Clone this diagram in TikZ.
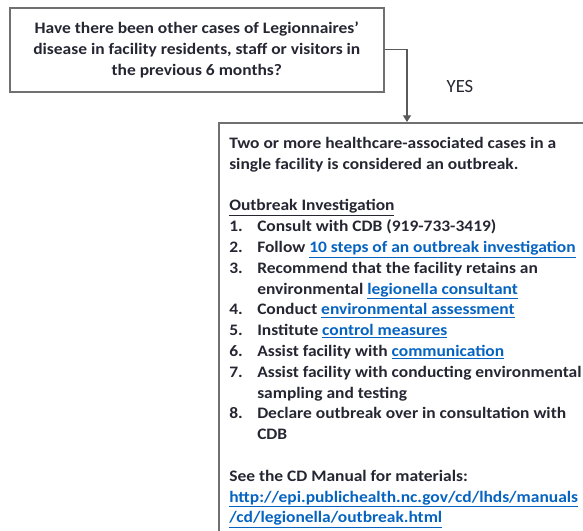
\documentclass[tikz,border=0pt]{standalone}
\usepackage{fontspec}
\setmainfont{Carlito}[FakeStretch=1.09]
\newfontfamily\yesfont{Carlito}
\usetikzlibrary{arrows.meta,calc}

\definecolor{inkgray}{HTML}{262633}
\definecolor{framegray}{HTML}{707070}
\definecolor{linkblue}{HTML}{0563C1}

\newcommand{\weblink}[1]{{\color{linkblue}\underline{#1}}}
\newcommand{\numitem}[2]{\makebox[21pt][l]{#1}#2}

\tikzset{
  qbox/.style={draw=framegray, line width=1.2pt, inner sep=0pt, align=center},
  flowline/.style={draw=framegray!80!black, line width=0.9pt, -{Triangle[width=6pt,length=5pt]}},
}

\begin{document}
\begin{tikzpicture}[x=0.75pt,y=-0.75pt,font=\bfseries\fontsize{12pt}{15.6pt}\selectfont,text=inkgray]
\useasboundingbox (0,0) rectangle (583,531);
\clip (0,0) rectangle (583,531);

\node[qbox, anchor=north west, minimum width=280.5pt, minimum height=63pt] (question) at (9,7)
  {Have there been other cases of Legionnaires'\\
   disease in facility residents, staff or visitors in\\
   the previous 6 months?};

\node[qbox, anchor=north west, minimum width=300pt, minimum height=330pt] (outbreak) at (218,122) {};

\node[anchor=north west, inner sep=0pt, align=left] (steps) at (229,137)
  {Two or more healthcare-associated cases in a\\
   single facility is considered an outbreak.\\[15.6pt]
   \underline{Outbreak Investigation}\\
   \numitem{1.}{Consult with CDB (919-733-3419)}\\
   \numitem{2.}{Follow \weblink{10 steps of an outbreak investigation}}\\
   \numitem{3.}{Recommend that the facility retains an}\\
   \numitem{}{environmental \weblink{legionella consultant}}\\
   \numitem{4.}{Conduct \weblink{environmental assessment}}\\
   \numitem{5.}{Institute \weblink{control measures}}\\
   \numitem{6.}{Assist facility with \weblink{communication}}\\
   \numitem{7.}{Assist facility with conducting environmental}\\
   \numitem{}{sampling and testing}\\
   \numitem{8.}{Declare outbreak over in consultation with}\\
   \numitem{}{CDB}\\[15.6pt]
   See the CD Manual for materials:\\
   \weblink{http://epi.publichealth.nc.gov/cd/lhds/manuals}\\
   \weblink{/cd/legionella/outbreak.html}};

\node[font=\yesfont\fontsize{14pt}{16pt}\selectfont] (yes) at (460,87) {YES};

\coordinate (drop) at ($(outbreak.north west)+(189,0)$);
\draw[flowline] (question.east) -| (drop);

\end{tikzpicture}
\end{document}
